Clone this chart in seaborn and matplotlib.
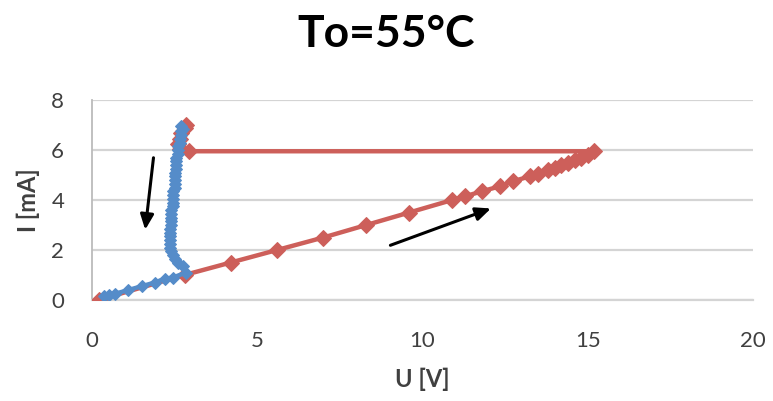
import numpy as np
import pandas as pd
import matplotlib
matplotlib.use("Agg")
import matplotlib.pyplot as plt
import seaborn as sns

# ---- data ----
red_u = [0.2, 2.8, 4.2, 5.6, 7.0, 8.3, 9.6, 10.9, 11.3, 11.8, 12.35, 12.75,
         13.25, 13.5, 13.8, 14.0, 14.2, 14.4, 14.6, 14.8, 15.0, 15.2,
         2.95, 2.65, 2.6, 2.65, 2.7, 2.8, 2.85]
red_i = [0.0, 1.0, 1.5, 2.0, 2.5, 3.0, 3.5, 4.0, 4.15, 4.35, 4.55, 4.75,
         4.95, 5.05, 5.2, 5.3, 5.4, 5.5, 5.6, 5.7, 5.8, 5.95,
         5.95, 6.05, 6.25, 6.45, 6.7, 6.9, 7.0]

blue_u = [2.7, 2.75, 2.7, 2.7, 2.65, 2.65, 2.6, 2.6, 2.6, 2.55, 2.55, 2.55,
          2.55, 2.5, 2.5, 2.5, 2.5, 2.5, 2.45, 2.45, 2.45, 2.45, 2.45, 2.4,
          2.4, 2.4, 2.4, 2.4, 2.35, 2.35, 2.35, 2.35, 2.35, 2.35, 2.4, 2.45,
          2.5, 2.6, 2.75, 2.85, 2.45, 2.2, 1.9, 1.5, 1.1, 0.7, 0.5, 0.35]
blue_i = [6.95, 6.85, 6.75, 6.6, 6.45, 6.3, 6.15, 6.0, 5.85, 5.7, 5.55, 5.4,
          5.25, 5.1, 4.95, 4.8, 4.65, 4.5, 4.35, 4.2, 4.05, 3.9, 3.75, 3.6,
          3.45, 3.3, 3.15, 3.0, 2.85, 2.7, 2.55, 2.4, 2.25, 2.1, 1.95, 1.8,
          1.65, 1.5, 1.35, 1.1, 0.9, 0.85, 0.7, 0.55, 0.4, 0.25, 0.2, 0.15]

title = "To=55°C"
x_label = "U [V]"
y_label = "I [mA]"
x_ticks = [0, 5, 10, 15, 20]
y_ticks = [0, 2, 4, 6, 8]

RED = "#CD5F5A"
BLUE = "#558CC9"

sns.set_style("white")
plt.rcParams["font.family"] = ["Lato", "DejaVu Sans"]

fig = plt.figure(figsize=(7.73, 4.01), dpi=100)
ax = fig.add_axes([92/773, 1-300/401, (753-92)/773, 200/401])

df_red = pd.DataFrame({"U": red_u, "I": red_i})
df_blue = pd.DataFrame({"U": blue_u, "I": blue_i})

sns.lineplot(data=df_red, x="U", y="I", sort=False, estimator=None, ax=ax,
             color=RED, linewidth=3.2, marker="D", markersize=8,
             markeredgecolor=RED, zorder=3)
sns.lineplot(data=df_blue, x="U", y="I", sort=False, estimator=None, ax=ax,
             color=BLUE, linewidth=3.2, marker="D", markersize=6.5,
             markeredgecolor=BLUE, zorder=4)

ax.set_xlim(0, 20)
ax.set_ylim(0, 8)
ax.set_xticks(x_ticks)
ax.set_yticks(y_ticks)
ax.set_xticklabels([str(t) for t in x_ticks])
ax.set_yticklabels([str(t) for t in y_ticks])
ax.tick_params(axis="both", length=0, labelsize=16, colors="#404040")
ax.tick_params(axis="y", pad=20)
ax.tick_params(axis="x", pad=22)

ax.yaxis.grid(True, color="#D4D4D4", linewidth=1.6)
ax.xaxis.grid(False)
ax.set_axisbelow(True)
for s in ["top", "right"]:
    ax.spines[s].set_visible(False)
ax.spines["left"].set_color("#BBBBBB")
ax.spines["left"].set_linewidth(1.3)
ax.spines["bottom"].set_color("#D4D4D4")
ax.spines["bottom"].set_linewidth(1.6)

ax.set_xlabel(x_label, fontsize=17, fontweight="bold", labelpad=12, color="#404040")
ax.set_ylabel(y_label, fontsize=17, fontweight="bold", labelpad=8, color="#404040")
ax.legend_ = None

fig.text(0.5, 1-47/401, title, ha="center", va="baseline",
         fontsize=32, fontweight="bold", color="black")

# direction arrows
ax.annotate("", xy=(1.6, 2.7), xytext=(1.87, 5.8),
            arrowprops=dict(arrowstyle="-|>,head_length=0.9,head_width=0.4",
                            color="black", lw=2.2))
ax.annotate("", xy=(12.15, 3.7), xytext=(8.95, 2.15),
            arrowprops=dict(arrowstyle="-|>,head_length=0.9,head_width=0.4",
                            color="black", lw=2.2))

fig.savefig("out.png", dpi=100)
